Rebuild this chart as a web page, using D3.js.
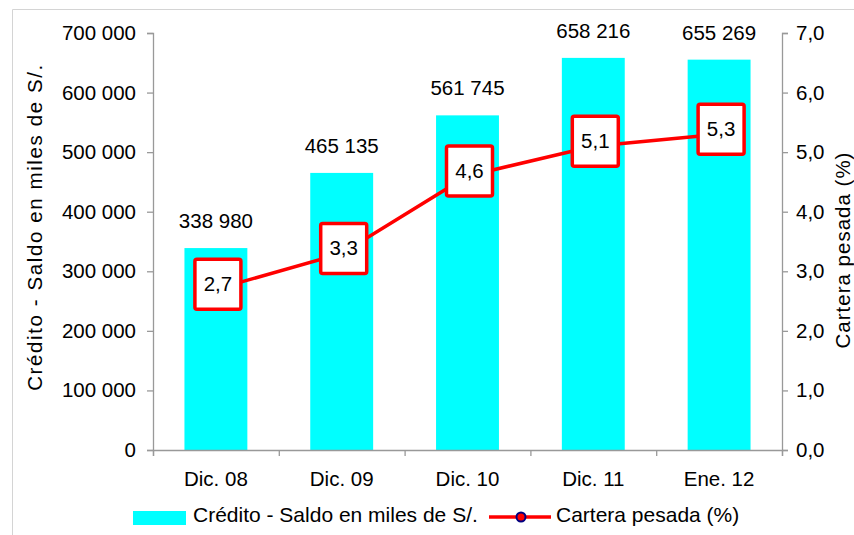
<!DOCTYPE html>
<html>
<head>
<meta charset="utf-8">
<script src="https://cdn.jsdelivr.net/npm/d3@7"></script>
<style>
  body { margin: 0; background: #fff; }
  svg text { font-family: "Liberation Sans", Arial, sans-serif; fill: #000; }
</style>
</head>
<body>
<svg id="chart" width="854" height="535"></svg>
<script>
var categories = ['Dic. 08', 'Dic. 09', 'Dic. 10', 'Dic. 11', 'Ene. 12'];
var credito = [338980, 465135, 561745, 658216, 655269];
var cartera = [2.7, 3.3, 4.6, 5.1, 5.3];
var leftTicks = [0, 100000, 200000, 300000, 400000, 500000, 600000, 700000];
var rightTicks = [0, 1, 2, 3, 4, 5, 6, 7];

var loc = d3.formatLocale({decimal: ',', thousands: ' ', grouping: [3], currency: ['', '']});
var fmtMiles = loc.format(',d');
var fmtPct = loc.format('.1f');

var svg = d3.select('#chart');
var pLeft = 153, pRight = 782, pTop = 33, pBottom = 450;
var fs = '20.5px';

// marco exterior
svg.append('path')
  .attr('d', 'M12.5,535 V9.5 H854')
  .attr('fill', 'none')
  .attr('stroke', '#d4d4d4')
  .attr('stroke-width', 1);

var x = d3.scaleBand().domain(categories).range([pLeft, pRight]).paddingInner(0.5).paddingOuter(0.25);
var y = d3.scaleLinear().domain([0, 700000]).range([pBottom, pTop]);
var y2 = d3.scaleLinear().domain([0, 7]).range([pBottom, pTop]);

// barras
svg.selectAll('rect.bar')
  .data(credito).enter()
  .append('rect')
  .attr('class', 'bar')
  .attr('x', function (d, i) { return x(categories[i]); })
  .attr('y', function (d) { return y(d); })
  .attr('width', x.bandwidth())
  .attr('height', function (d) { return pBottom - y(d); })
  .attr('fill', '#00ffff');

svg.selectAll('text.barlbl')
  .data(credito).enter()
  .append('text')
  .attr('class', 'barlbl')
  .attr('x', function (d, i) { return x(categories[i]) + x.bandwidth() / 2; })
  .attr('y', function (d) { return y(d) - 20; })
  .attr('text-anchor', 'middle')
  .style('font-size', fs)
  .text(function (d) { return fmtMiles(d); });

// ejes
var axisLeft = svg.append('g')
  .attr('transform', 'translate(' + pLeft + ',0)')
  .call(d3.axisLeft(y).tickValues(leftTicks).tickFormat(fmtMiles).tickSize(6).tickPadding(11));
var axisRight = svg.append('g')
  .attr('transform', 'translate(' + pRight + ',0)')
  .call(d3.axisRight(y2).tickValues(rightTicks).tickFormat(fmtPct).tickSize(6).tickPadding(8));

var xb = d3.scalePoint().domain(d3.range(categories.length + 1)).range([pLeft, pRight]);
var axisBottom = svg.append('g')
  .attr('transform', 'translate(0,' + pBottom + ')')
  .call(d3.axisBottom(xb).tickSize(6).tickFormat(''));

[axisLeft, axisRight, axisBottom].forEach(function (g) {
  g.select('.domain').attr('stroke', '#999').attr('stroke-width', 1.3);
  g.selectAll('.tick line').attr('stroke', '#999').attr('stroke-width', 1.3);
  g.selectAll('.tick text').style('font-size', fs).attr('font-family', null).attr('fill', '#000');
});

svg.selectAll('text.cat')
  .data(categories).enter()
  .append('text')
  .attr('class', 'cat')
  .attr('x', function (d) { return x(d) + x.bandwidth() / 2; })
  .attr('y', 486)
  .attr('text-anchor', 'middle')
  .style('font-size', fs)
  .text(function (d) { return d; });

// titulos de ejes
svg.append('text')
  .attr('transform', 'translate(42,227) rotate(-90)')
  .attr('text-anchor', 'middle')
  .style('font-size', fs)
  .style('letter-spacing', '1.6px')
  .text('Crédito - Saldo en miles de S/.');

svg.append('text')
  .attr('transform', 'translate(850,250) rotate(-90)')
  .attr('text-anchor', 'middle')
  .style('font-size', fs)
  .style('letter-spacing', '1px')
  .text('Cartera pesada (%)');

// linea
var line = d3.line()
  .x(function (d, i) { return x(categories[i]) + x.bandwidth() / 2; })
  .y(function (d) { return y2(d); });

svg.append('path')
  .datum(cartera)
  .attr('d', line)
  .attr('fill', 'none')
  .attr('stroke', '#ff0000')
  .attr('stroke-width', 3.5);

var boxes = svg.selectAll('g.box')
  .data(cartera).enter()
  .append('g')
  .attr('class', 'box')
  .attr('transform', function (d, i) {
    return 'translate(' + (x(categories[i]) + x.bandwidth() / 2 + 2) + ',' + (y2(d) - 5) + ')';
  });

boxes.append('rect')
  .attr('x', -23).attr('y', -25)
  .attr('width', 46).attr('height', 50)
  .attr('rx', 2)
  .attr('fill', '#fff')
  .attr('stroke', '#ff0000')
  .attr('stroke-width', 3.5);

boxes.append('text')
  .attr('text-anchor', 'middle')
  .attr('y', 7)
  .style('font-size', fs)
  .text(function (d) { return fmtPct(d); });

// leyenda
var leg = svg.append('g');
leg.append('rect')
  .attr('x', 133).attr('y', 511)
  .attr('width', 53).attr('height', 14)
  .attr('fill', '#00ffff');
leg.append('text')
  .attr('x', 193).attr('y', 522)
  .style('font-size', '21px')
  .text('Crédito - Saldo en miles de S/.');
leg.append('line')
  .attr('x1', 489).attr('x2', 551)
  .attr('y1', 517).attr('y2', 517)
  .attr('stroke', '#ff0000')
  .attr('stroke-width', 3.5);
leg.append('circle')
  .attr('cx', 521).attr('cy', 517).attr('r', 4.5)
  .attr('fill', '#ff0000')
  .attr('stroke', '#000080')
  .attr('stroke-width', 2);
leg.append('text')
  .attr('x', 556).attr('y', 522)
  .style('font-size', '21px')
  .text('Cartera pesada (%)');
</script>
</body>
</html>
